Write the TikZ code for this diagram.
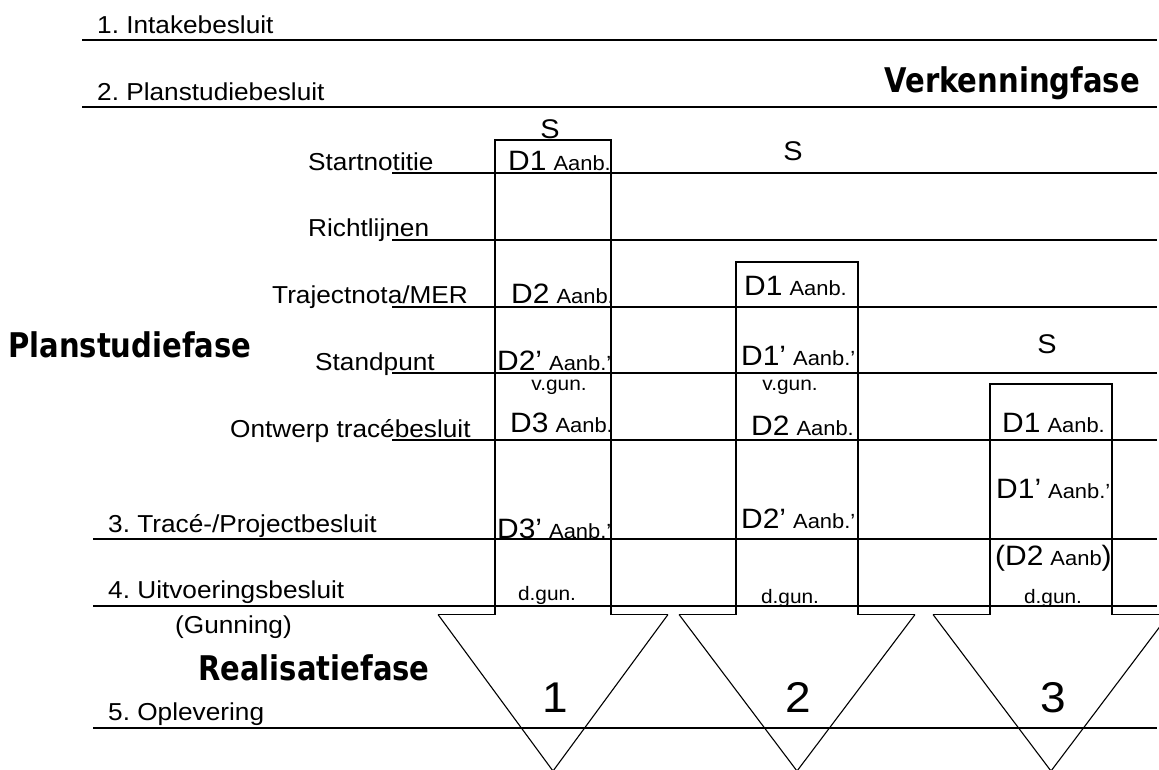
\documentclass[tikz,border=0pt]{standalone}
\usepackage{fontspec}
\setmainfont{Liberation Sans}[FakeStretch=1.07]
\newfontfamily\phasefont[FakeStretch=0.855]{DejaVu Sans}
\frenchspacing
\newcommand\docD[1]{{\fontsize{28}{30}\selectfont #1}}
\newcommand\docA[1]{{\fontsize{20.5}{23}\selectfont #1}}
\newcommand\docS{\hspace{7pt}}
\tikzset{
  rowline/.style={line width=1.6pt},
  column/.style={line width=1.5pt, line join=miter},
  arrowside/.style={line width=1.1pt},
  lbl/.style={inner sep=0pt, anchor=base west, font=\fontsize{24.5}{26}\selectfont},
  phase/.style={inner sep=0pt, font=\phasefont\bfseries\fontsize{34}{36}\selectfont},
  cell/.style={inner sep=0pt, anchor=base west},
  startmark/.style={inner sep=0pt, anchor=base, font=\fontsize{27}{29}\selectfont},
  gun/.style={inner sep=0pt, anchor=base, font=\fontsize{19.5}{21}\selectfont},
  num/.style={inner sep=0pt, anchor=base, font=\fontsize{43}{45}\selectfont}
}
\begin{document}
\begin{tikzpicture}[x=1pt, y=-1pt]
\useasboundingbox (0,0) rectangle (1159,769);
\clip (0,0) rectangle (1159,769);

% decision lines
\foreach \y in {40,107} \draw[rowline] (82,\y) -- (1157,\y);
\foreach \y in {173,240,307,373,440} \draw[rowline] (392,\y) -- (1157,\y);
\foreach \y in {539,606,728} \draw[rowline] (93,\y) -- (1157,\y);

% the three variants: column ending in a downward arrow
\foreach \l/\r/\t in {495/611/140, 736/858/262, 990/1112/384}{
  \pgfmathsetmacro\c{(\l+\r)/2}
  \draw[column] (\l-57,614.5) -- (\l,614.5) -- (\l,\t) -- (\r,\t)
     -- (\r,614.5) -- (\r+57,614.5);
  \draw[arrowside] (\l-57,614.5) -- (\c,771) -- (\r+57,614.5);
}

% row labels
\node[lbl] (intake) at (97,33) {1. Intakebesluit};
\node[lbl] (plan) at (97,100) {2. Planstudiebesluit};
\node[lbl] (start) at (308,170) {Startnotitie};
\node[lbl] (richt) at (308,236) {Richtlijnen};
\node[lbl] (traject) at (272,303) {Trajectnota/MER};
\node[lbl] (stand) at (315,370) {Standpunt};
\node[lbl] (otb) at (230,437) {Ontwerp tracébesluit};
\node[lbl] (tb) at (108,532) {3. Tracé-/Projectbesluit};
\node[lbl] (uitv) at (108,598) {4. Uitvoeringsbesluit};
\node[lbl] (gunning) at (175,633) {(Gunning)};
\node[lbl] (oplev) at (108,720) {5. Oplevering};

% phases
\node[phase, anchor=base east] (verk) at (1140,92) {Verkenningfase};
\node[phase, anchor=base west] (psf) at (8,357) {Planstudiefase};
\node[phase, anchor=base west] (rsf) at (198,680) {Realisatiefase};

% variant 1
\node[startmark] (s1) at (550,138) {S};
\node[cell] (a1) at (508,170) {\docD{D1}\docS\docA{Aanb.}};
\node[cell] (a2) at (511,303) {\docD{D2}\docS\docA{Aanb.}};
\node[cell] (a3) at (497,370) {\docD{D2’}\docS\docA{Aanb.’}};
\node[gun] (a4) at (559,390) {v.gun.};
\node[cell] (a5) at (510,432) {\docD{D3}\docS\docA{Aanb.}};
\node[cell] (a6) at (497,538) {\docD{D3’}\docS\docA{Aanb.’}};
\node[gun] (a7) at (547,600) {d.gun.};
\node[num] (n1) at (555,712) {1};

% variant 2
\node[startmark] (s2) at (793,160) {S};
\node[cell] (b1) at (744,295) {\docD{D1}\docS\docA{Aanb.}};
\node[cell] (b2) at (741,365) {\docD{D1’}\docS\docA{Aanb.’}};
\node[gun] (b3) at (790,390) {v.gun.};
\node[cell] (b4) at (751,435) {\docD{D2}\docS\docA{Aanb.}};
\node[cell] (b5) at (741,528) {\docD{D2’}\docS\docA{Aanb.’}};
\node[gun] (b6) at (790,603) {d.gun.};
\node[num] (n2) at (798,712) {2};

% variant 3
\node[startmark] (s3) at (1047,353) {S};
\node[cell] (c1) at (1002,432) {\docD{D1}\docS\docA{Aanb.}};
\node[cell] (c2) at (996,498) {\docD{D1’}\docS\docA{Aanb.’}};
\node[cell] (c3) at (995,565) {\docD{(D2}\docS\docA{Aanb}\docD{)}};
\node[gun] (c4) at (1053,603) {d.gun.};
\node[num] (n3) at (1053,712) {3};
\end{tikzpicture}
\end{document}
